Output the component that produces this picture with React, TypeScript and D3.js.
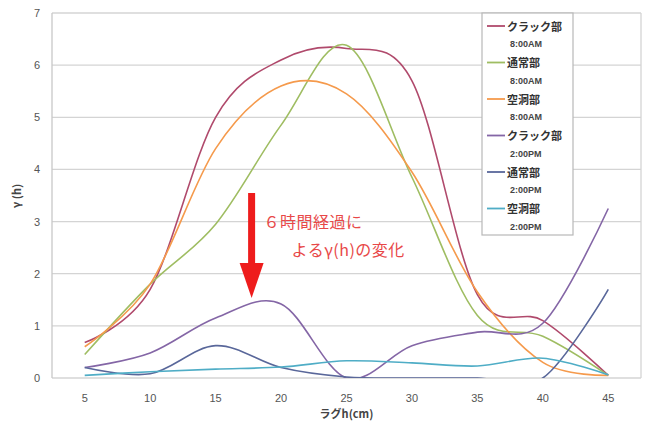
import React from 'react'
import * as d3 from 'd3'

const lags = ['5', '10', '15', '20', '25', '30', '35', '40', '45']
const yTicks = [0, 1, 2, 3, 4, 5, 6, 7]

const crack8 = [0.68, 1.7, 5.0, 6.1, 6.32, 5.7, 1.6, 1.1, 0.05]
const normal8 = [0.45, 1.8, 2.95, 4.85, 6.38, 3.85, 1.2, 0.8, 0.05]
const cavity8 = [0.6, 1.8, 4.4, 5.6, 5.45, 3.95, 1.65, 0.3, 0.05]
const crack2 = [0.2, 0.48, 1.15, 1.42, 0, 0.62, 0.88, 1.05, 3.25]
const normal2 = [0.2, 0.08, 0.62, 0.2, 0.02, 0, 0, 0, 1.7]
const cavity2 = [0.05, 0.12, 0.17, 0.21, 0.33, 0.29, 0.23, 0.38, 0.06]

const seriesNames = ['クラック部', '通常部', '空洞部', 'クラック部', '通常部', '空洞部']
const seriesTimes = ['8:00AM', '8:00AM', '8:00AM', '2:00PM', '2:00PM', '2:00PM']
const seriesColors = ['#b04a6c', '#9fbd62', '#f59a4c', '#8466a6', '#59679a', '#4fadc6']
const seriesValues = [crack8, normal8, cavity8, crack2, normal2, cavity2]

const note1 = '６時間経過に'
const note2 = 'よるγ(h)の変化'

const W = 646
const H = 423
const left = 52
const right = 641
const top = 13
const bottom = 378

const jp = '"Noto Sans CJK JP", "Noto Sans", sans-serif'

export default function App() {
  const x = d3.scalePoint<string>().domain(lags).range([left, right]).padding(0.5)
  const y = d3.scaleLinear().domain([0, 7]).range([bottom, top])

  const line = d3.line<number>()
    .x((d, i) => x(lags[i]) as number)
    .y(d => y(d))
    .curve(d3.curveCardinal.tension(0))

  const arrowX = x('15')! + 36
  const legX = 482
  const legY = 13

  return (
    <svg width={W} height={H} style={{ position: 'absolute', left: 0, top: 0, background: '#fff' }}
      fontFamily={jp}>
      <defs>
        <clipPath id="plot">
          <rect x={left} y={top} width={right - left} height={bottom - top} />
        </clipPath>
      </defs>

      {/* gridlines */}
      {yTicks.map(t => (
        <line key={t} x1={left} x2={right} y1={y(t)} y2={y(t)} stroke="#d4d4d4" strokeWidth={1.3} />
      ))}
      <line x1={left} x2={left} y1={top} y2={bottom} stroke="#c8c8c8" strokeWidth={1.3} />
      <line x1={right} x2={right} y1={top} y2={bottom} stroke="#d4d4d4" strokeWidth={1.3} />

      {yTicks.map(t => (
        <text key={t} x={40} y={y(t) + 4} textAnchor="end" fontSize={11} fill="#555"
          fontFamily="Liberation Sans, sans-serif">{t}</text>
      ))}
      {lags.map(l => (
        <text key={l} x={x(l)} y={402} textAnchor="middle" fontSize={11} fill="#555"
          fontFamily="Liberation Sans, sans-serif">{l}</text>
      ))}
      <text x={(left + right) / 2} y={418} textAnchor="middle" fontSize={11} fontWeight="bold" fill="#444">
        ラグh(cm)
      </text>
      <text transform={`translate(21, ${196}) rotate(-90)`} textAnchor="middle" fontSize={11}
        fontWeight="bold" fill="#444">γ (h)</text>

      {/* series */}
      <g clipPath="url(#plot)">
        {seriesValues.map((vals, i) => (
          <path key={i} d={line(vals) || ''} fill="none" stroke={seriesColors[i]} strokeWidth={1.6} />
        ))}
      </g>

      {/* annotation */}
      <rect x={arrowX - 3.5} y={193} width={7} height={72} fill="#ee1c1c" />
      <path d={`M${arrowX - 12},263 L${arrowX + 12},263 L${arrowX},298 Z`} fill="#ee1c1c" />
      <text x={arrowX + 12} y={228} fontSize={16} fill="#e84848" letterSpacing={0.5}>{note1}</text>
      <text x={arrowX + 40} y={256} fontSize={16} fill="#e84848" letterSpacing={0.5}>{note2}</text>

      {/* legend */}
      <rect x={legX} y={legY} width={91} height={222} fill="#fff" stroke="#b8b8b8" strokeWidth={1.2} />
      {seriesNames.map((n, i) => {
        const ly = legY + 13 + i * 36.5
        return (
          <g key={i}>
            <line x1={legX + 5} x2={legX + 23} y1={ly} y2={ly} stroke={seriesColors[i]} strokeWidth={1.8} />
            <text x={legX + 25} y={ly + 4.5} fontSize={11} fontWeight="bold" fill="#333">{n}</text>
            <text x={legX + 28} y={ly + 21} fontSize={9} fontWeight="bold" fill="#444"
              fontFamily="Liberation Sans, sans-serif">{seriesTimes[i]}</text>
          </g>
        )
      })}
    </svg>
  )
}
